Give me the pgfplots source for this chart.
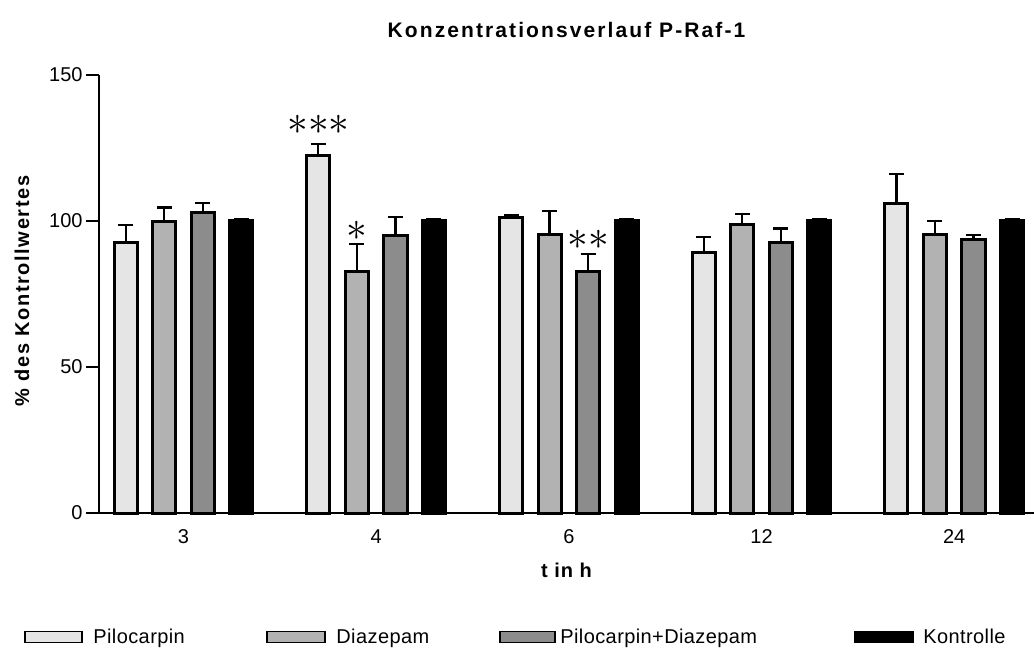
\documentclass[border=0pt]{standalone}
\usepackage{fontspec}
\setmainfont{Liberation Sans}
\usepackage{pgfplots}
\pgfplotsset{compat=1.18}

\tikzset{
  pilo/.style={draw=black, line width=1.5bp, fill=black!10},
  diaz/.style={draw=black, line width=1.5bp, fill=black!30},
  pd/.style={draw=black, line width=1.5bp, fill=black!45},
  kontr/.style={draw=black, line width=1.5bp, fill=black},
  star/.style={font=\fontsize{19bp}{19bp}\selectfont, inner sep=0pt},
}

\begin{document}
\begin{tikzpicture}
\begin{axis}[
  name=ax,
  scale only axis,
  width=467.5bp, height=219bp,
  xmin=-0.4385, xmax=4.414,
  ymin=0, ymax=150,
  axis x line=bottom, axis y line=left,
  axis line style={-, line width=0.75bp},
  ybar, bar width=0.12,
  xtick={0,1,2,3,4},
  xticklabels={3,4,6,12,24},
  x tick style={draw=none},
  ytick={0,50,100,150},
  y tick style={line width=0.75bp, black},
  tick align=outside,
  major tick length=6.5bp,
  /pgf/number format/assume math mode=true,
  tick label style={font=\fontsize{10bp}{12bp}\selectfont},
  xticklabel style={inner sep=0pt, anchor=north, yshift=-1.5bp},
  yticklabel style={inner sep=0pt, anchor=east, xshift=-1.5bp},
  title={Konzentrationsverlauf P-Raf-1},
  title style={font=\fontsize{10.5bp}{12bp}\selectfont\bfseries\addfontfeature{LetterSpace=10},
    at={(axis description cs:0.5,1)}, anchor=center, yshift=16.5bp},
  xlabel={t in h},
  xlabel style={font=\fontsize{10bp}{12bp}\selectfont\bfseries\addfontfeature{LetterSpace=5},
    at={(axis description cs:0.5,0)}, anchor=center, yshift=-28.5bp},
  ylabel={\% des Kontrollwertes},
  ylabel style={font=\fontsize{10bp}{12bp}\selectfont\bfseries\addfontfeature{LetterSpace=8},
    at={(axis description cs:0,0.507)}, anchor=center, yshift=38.5bp},
  error bars/y dir=plus,
  error bars/y explicit,
  error bars/error bar style={line width=1.1bp, black},
  error bars/error mark options={rotate=90, line width=1.1bp, mark size=3.75bp, black},
  clip=false,
]
% Pilocarpin
\addplot[pilo, bar shift=-0.3] coordinates {
  (0,92.7) +- (0,5.8)
  (1,122.6) +- (0,3.9)
  (2,101.3) +- (0,0.8)
  (3,89.2) +- (0,5.4)
  (4,106.1) +- (0,10.0)
};
% Diazepam
\addplot[diaz, bar shift=-0.1] coordinates {
  (0,99.7) +- (0,4.9)
  (1,82.8) +- (0,9.4)
  (2,95.5) +- (0,8.0)
  (3,98.9) +- (0,3.5)
  (4,95.5) +- (0,4.6)
};
% Pilocarpin+Diazepam
\addplot[pd, bar shift=0.1] coordinates {
  (0,103.0) +- (0,3.2)
  (1,94.9) +- (0,6.6)
  (2,82.8) +- (0,5.9)
  (3,92.6) +- (0,4.8)
  (4,93.8) +- (0,1.4)
};
% Kontrolle
\addplot[kontr, bar shift=0.3] coordinates {
  (0,100) +- (0,0.8)
  (1,100) +- (0,0.8)
  (2,100) +- (0,0.8)
  (3,100) +- (0,0.8)
  (4,100) +- (0,0.8)
};

% Signifikanz
\node[star] at (axis cs:0.7,132.9) {$\mathord{\ast}\mathord{\ast}\mathord{\ast}$};
\node[star] at (axis cs:0.9,96.6) {$\ast$};
\node[star] at (axis cs:2.1,93.5) {$\mathord{\ast}\mathord{\ast}$};
\end{axis}

% Legende
\begin{scope}[shift={(ax.south west)}, every node/.style={font=\fontsize{10bp}{12bp}\selectfont\addfontfeature{LetterSpace=2}, anchor=base west, inner sep=0pt}]
  \draw[pilo, line width=0.8bp] (-37bp,-64.75bp) rectangle ++(28.5bp,5.5bp);
  \node at (-3bp,-65bp) {Pilocarpin};
  \draw[diaz, line width=0.8bp] (84bp,-64.75bp) rectangle ++(29bp,5.5bp);
  \node at (118.5bp,-65bp) {Diazepam};
  \draw[pd, line width=0.8bp] (200.5bp,-64.75bp) rectangle ++(27.5bp,5.5bp);
  \node at (230.5bp,-65bp) {Pilocarpin+Diazepam};
  \draw[kontr, line width=0.8bp] (378bp,-64.75bp) rectangle ++(29bp,5.5bp);
  \node at (412bp,-65bp) {Kontrolle};
\end{scope}

\pgfresetboundingbox
\path ([xshift=-49.5bp, yshift=-68.5bp]ax.south west) rectangle ([yshift=37.5bp]ax.north east);
\end{tikzpicture}
\end{document}
